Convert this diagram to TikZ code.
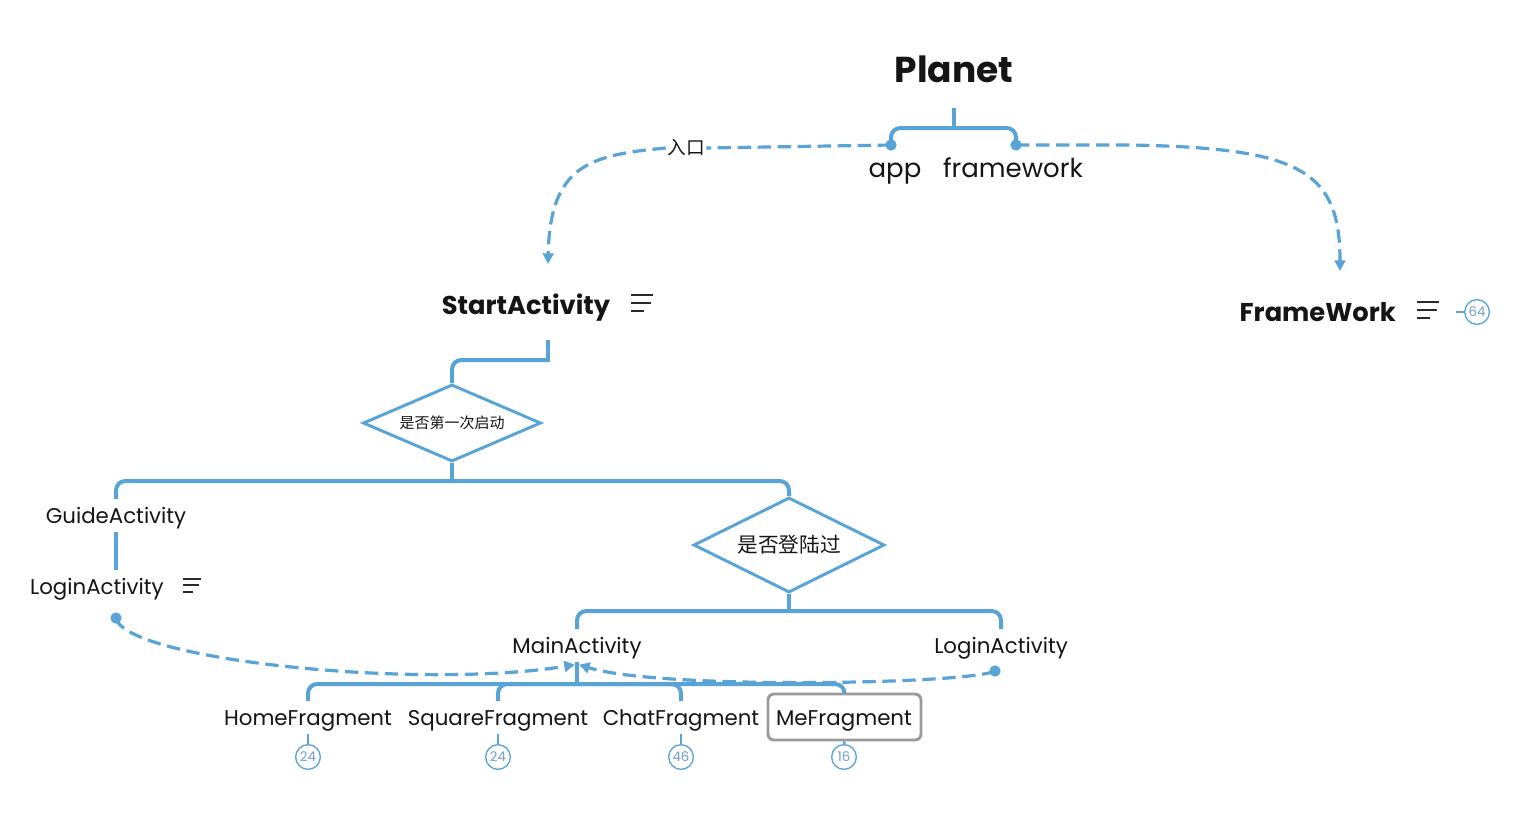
\documentclass[tikz,border=0pt]{standalone}
\usepackage{fontspec}
\setmainfont{Poppins}
\newfontfamily\cjk{Noto Sans CJK SC}
\usetikzlibrary{arrows.meta,shapes.geometric}
\definecolor{lblue}{HTML}{58A4D6}
\definecolor{ink}{HTML}{151515}
\definecolor{boxgray}{HTML}{9B9B9B}
\definecolor{badgetxt}{HTML}{6E9FCF}
\definecolor{iconcol}{HTML}{2A2A2A}
\newcommand\noteicon[1][1]{\tikz[baseline=0pt,x=#1pt,y=#1pt,line width=1.5pt]{\draw[iconcol] (0,2.25)--(9.5,2.25); \draw[iconcol] (0,8.25)--(15,8.25); \draw[iconcol] (0,14.25)--(16.5,14.25);}}
\begin{document}
\begin{tikzpicture}[x=0.75pt,y=-0.75pt,
  tree/.style={draw=lblue,line width=3pt,rounded corners=7pt},
  trunk/.style={draw=lblue,line width=3pt},
  rel/.style={draw=lblue,line width=2.4pt,dash pattern=on 10pt off 5pt},
  tip/.style={-{Triangle[length=8pt,width=8pt]}},
  txt/.style={font=\fontsize{16}{19}\selectfont,text=ink,inner sep=0pt,text height=11.25pt,text depth=0pt,outer ysep=6.75pt,anchor=base},
  subtxt/.style={font=\fontsize{19.5}{23}\selectfont,text=ink,inner sep=0pt,anchor=base},
  head/.style={font=\bfseries\fontsize{19.3}{23}\selectfont,text=ink,inner sep=0pt,text height=16.5pt,text depth=0pt,outer ysep=21pt,anchor=base},
  badge/.style={circle,draw=lblue,line width=1pt,minimum size=18.5pt,inner sep=0pt,text=badgetxt,font=\fontsize{10}{12}\selectfont},
  stub/.style={draw=lblue,line width=2pt},
  dot/.style={circle,fill=lblue,minimum size=8.5pt,inner sep=0pt},
  decision/.style={diamond,draw=lblue,line width=2.2pt,inner sep=0pt,text=ink}
]
\useasboundingbox (0,0) rectangle (1540,817);
\fill[white] (0,0) rectangle (1540,817);

% root
\node[font=\bfseries\fontsize{27}{32}\selectfont,text=ink,inner sep=0pt,text height=19pt,text depth=0pt,outer ysep=18.75pt,anchor=base] (planet) at (954,83) {Planet};
\node[subtxt] (app) at (895,177) {app};
\node[subtxt] (fw) at (1013,177) {framework};
\node[dot] (appdot) at (891,145) {};
\node[dot] (fwdot) at (1016,145) {};
\draw[trunk] (planet.south) -- (954,128) coordinate (pj);
\draw[tree] (pj) -| (appdot.center);
\draw[tree] (pj) -| (fwdot.center);

% second level
\node[head] (start) at (548,314) {StartActivity\hspace{15pt}\noteicon};
\node[head] (frame) at (1340,321) {FrameWork\hspace{15.5pt}\noteicon};
\node[badge] (fb) at (1477,312) {64};
\draw[stub] (fb.west) -- ++(-8,0) coordinate (fbend);

\node[font=\cjk\fontsize{14}{16}\selectfont,text=ink,inner sep=1pt] (entry) at (686,148) {入口};
\draw[rel] (appdot.center) -- (entry.east);
\draw[rel,tip] (entry.west) .. controls (590,155) and (550,165) .. (start.north);
\draw[rel,tip] (fwdot.center) -- (1130,145) .. controls (1300,148) and (1340,170) .. (frame.north);

% first decision
\node[decision,aspect=2.31,minimum width=133.5pt,minimum height=57.75pt,font=\cjk\fontsize{11.25}{13}\selectfont] (d1) at (452,423) {是否第一次启动};
\draw[trunk,line cap=rect] (start.south) -- (548,360) coordinate (sj);
\draw[tree] (sj) -| (d1.north);
\draw[trunk] (d1.south) -- (452,481) coordinate (d1j);

\node[txt] (guide) at (116,523) {GuideActivity};
\node[txt] (loginL) at (116,594) {LoginActivity\hspace{14pt}\noteicon[0.8]};
\node[decision,aspect=2.0,minimum width=143.25pt,minimum height=71.25pt,font=\cjk\fontsize{15.5}{18}\selectfont] (d2) at (789,545) {是否登陆过};
\draw[tree] (d1j) -| (guide.north);
\draw[tree] (d1j) -| (d2.north);
\draw[trunk] (guide.south) -- (guide.south |- loginL.north);
\node[dot] (ldot) at (116,618) {};

% second decision
\draw[trunk] (d2.south) -- (789,611) coordinate (d2j);
\node[txt] (main) at (577,653) {MainActivity};
\node[txt] (loginR) at (1001,653) {LoginActivity};
\draw[tree] (d2j) -| (main.north);
\draw[tree] (d2j) -| (loginR.north);
\node[dot] (rdot) at (995,671) {};
\draw[rel,tip] (ldot.center) .. controls (125,660) and (420,690) .. ([xshift=-1.5pt,yshift=-2pt]main.south);
\draw[rel,tip] (rdot.center) .. controls (970,684) and (660,690) .. ([xshift=1.5pt,yshift=-2pt]main.south);
\draw[trunk] (main.south) -- (577,684) coordinate (mj);

% fragments
\node[txt] (home) at (308,725) {HomeFragment};
\node[txt] (square) at (498,725) {SquareFragment};
\node[txt] (chat) at (681,725) {ChatFragment};
\node[txt] (me) at (844,725) {MeFragment};
\node[draw=boxgray,line width=2.2pt,rounded corners=4.5pt,minimum width=114.75pt,minimum height=34.5pt,inner sep=0pt] (mebox) at (844.5,717) {};
\draw[tree] (mj) -| (home.north);
\draw[tree] (mj) -| (square.north);
\draw[tree] (mj) -| (chat.north);
\draw[tree] (mj) -| (mebox.north);

\node[badge] (hb) at (308,757) {24};
\node[badge] (sb) at (498,757) {24};
\node[badge] (cb) at (681,757) {46};
\node[badge] (mb) at (844,757) {16};
\draw[stub] (home.south) -- (hb.north);
\draw[stub] (square.south) -- (sb.north);
\draw[stub] (chat.south) -- (cb.north);
\draw[stub] (mebox.south) -- (mb.north);
\end{tikzpicture}
\end{document}
